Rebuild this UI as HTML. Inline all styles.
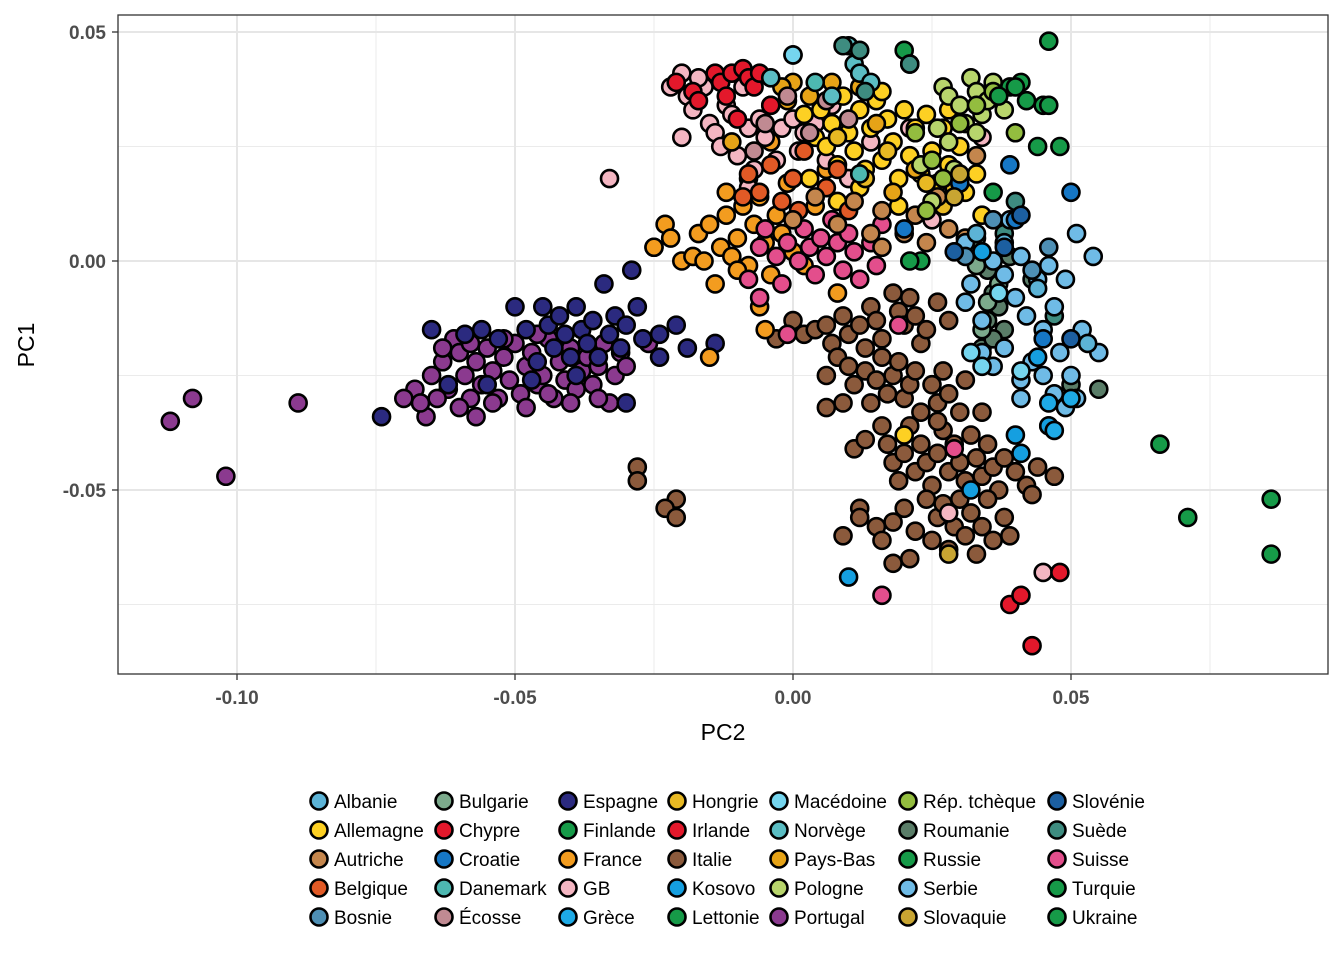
<!DOCTYPE html>
<html><head><meta charset="utf-8"><style>
body{margin:0;background:#fff;}
svg{display:block;font-family:"Liberation Sans",Arial,sans-serif;}
</style></head><body>
<svg id="chart" width="1344" height="960">
<rect x="0" y="0" width="1344" height="960" fill="#fff"/>
<g id="grid"></g><g id="pts"></g>
<rect x="118" y="15" width="1210" height="659" fill="none" stroke="#333" stroke-width="1.3"/>
<g id="axes"></g>
<text x="723" y="740" font-size="23" text-anchor="middle" fill="#000">PC2</text>
<text x="0" y="0" font-size="23" text-anchor="middle" fill="#000" transform="translate(34,345) rotate(-90)">PC1</text>
<g id="legend"></g>
</svg>
<script>
const xTicks=[-0.10,-0.05,0.00,0.05];
const xTickLabels=["-0.10","-0.05","0.00","0.05"];
const yTicks=[0.05,0.00,-0.05];
const yTickLabels=["0.05","0.00","-0.05"];
const countries=["Albanie","Allemagne","Autriche","Belgique","Bosnie","Bulgarie","Chypre","Croatie","Danemark","Écosse","Espagne","Finlande","France","GB","Grèce","Hongrie","Irlande","Italie","Kosovo","Lettonie","Macédoine","Norvège","Pays-Bas","Pologne","Portugal","Rép. tchèque","Roumanie","Russie","Serbie","Slovaquie","Slovénie","Suède","Suisse","Turquie","Ukraine"];
const colors=["#5CB3D6","#FDD023","#C4864D","#E15A26","#4E8FB4","#7CAA8C","#E3182B","#1677C5","#4DB8B1","#C08A92","#2B2A7F","#169A48","#F39C1F","#F4B6C2","#1EAAE6","#E8B923","#E3182B","#8B5A3C","#159FE0","#169A48","#75D5EE","#5BBDC3","#E6A317","#B8D56C","#8B3A8F","#93BD3F","#5A7D68","#169A48","#6FBBE6","#C8A532","#1C5FA0","#3E8C80","#E34E8C","#169A48","#169A48"];

const Portugal=[[-0.112,-0.035],[-0.108,-0.030],[-0.102,-0.047],[-0.089,-0.031],[-0.066,-0.034],[-0.057,-0.034],[-0.068,-0.028],[-0.067,-0.031],[-0.065,-0.025],[-0.063,-0.022],[-0.062,-0.028],[-0.061,-0.017],[-0.060,-0.020],[-0.059,-0.025],[-0.058,-0.030],[-0.057,-0.022],[-0.056,-0.027],[-0.055,-0.019],[-0.054,-0.024],[-0.053,-0.030],[-0.052,-0.021],[-0.051,-0.026],[-0.050,-0.018],[-0.049,-0.029],[-0.048,-0.023],[-0.047,-0.020],[-0.046,-0.027],[-0.045,-0.025],[-0.044,-0.017],[-0.043,-0.030],[-0.042,-0.022],[-0.041,-0.026],[-0.040,-0.019],[-0.039,-0.028],[-0.038,-0.024],[-0.037,-0.021],[-0.036,-0.027],[-0.035,-0.023],[-0.034,-0.018],[-0.033,-0.031],[-0.032,-0.025],[-0.031,-0.020],[-0.030,-0.023],[-0.064,-0.030],[-0.060,-0.032],[-0.054,-0.031],[-0.048,-0.032],[-0.044,-0.029],[-0.058,-0.018],[-0.052,-0.017],[-0.046,-0.016],[-0.063,-0.019],[-0.070,-0.030],[-0.040,-0.031],[-0.035,-0.030],[-0.026,-0.018]];
const Espagne=[[-0.074,-0.034],[-0.065,-0.015],[-0.062,-0.027],[-0.059,-0.016],[-0.056,-0.015],[-0.053,-0.017],[-0.050,-0.010],[-0.048,-0.015],[-0.046,-0.022],[-0.044,-0.014],[-0.043,-0.019],[-0.042,-0.012],[-0.041,-0.016],[-0.040,-0.021],[-0.039,-0.010],[-0.038,-0.015],[-0.037,-0.018],[-0.036,-0.013],[-0.035,-0.021],[-0.034,-0.005],[-0.033,-0.016],[-0.032,-0.012],[-0.031,-0.019],[-0.030,-0.014],[-0.029,-0.002],[-0.028,-0.010],[-0.027,-0.017],[-0.025,0.003],[-0.024,-0.016],[-0.024,-0.021],[-0.021,-0.014],[-0.019,-0.019],[-0.014,-0.018],[-0.030,-0.031],[-0.055,-0.027],[-0.047,-0.026],[-0.039,-0.025],[-0.045,-0.010]];
const Italie=[[-0.028,-0.045],[-0.028,-0.048],[-0.021,-0.052],[-0.023,-0.054],[-0.021,-0.056],[-0.003,-0.017],[0.000,-0.013],[0.002,-0.016],[0.004,-0.015],[0.006,-0.014],[0.007,-0.018],[0.009,-0.012],[0.010,-0.016],[0.012,-0.014],[0.013,-0.019],[0.014,-0.010],[0.015,-0.013],[0.016,-0.017],[0.018,-0.007],[0.019,-0.011],[0.020,-0.014],[0.021,-0.008],[0.022,-0.012],[0.023,-0.018],[0.024,-0.015],[0.026,-0.009],[0.028,-0.013],[0.006,-0.025],[0.008,-0.021],[0.010,-0.023],[0.011,-0.027],[0.013,-0.024],[0.015,-0.026],[0.016,-0.021],[0.017,-0.029],[0.018,-0.025],[0.019,-0.022],[0.020,-0.030],[0.021,-0.027],[0.022,-0.024],[0.023,-0.033],[0.025,-0.027],[0.026,-0.031],[0.027,-0.024],[0.028,-0.029],[0.030,-0.033],[0.031,-0.026],[0.006,-0.032],[0.009,-0.031],[0.011,-0.041],[0.013,-0.039],[0.016,-0.036],[0.017,-0.040],[0.018,-0.044],[0.019,-0.048],[0.020,-0.042],[0.021,-0.036],[0.022,-0.046],[0.023,-0.040],[0.024,-0.044],[0.025,-0.049],[0.026,-0.042],[0.027,-0.037],[0.028,-0.046],[0.029,-0.040],[0.030,-0.044],[0.031,-0.048],[0.032,-0.038],[0.033,-0.043],[0.034,-0.047],[0.035,-0.040],[0.036,-0.045],[0.037,-0.050],[0.038,-0.043],[0.040,-0.046],[0.042,-0.049],[0.044,-0.045],[0.047,-0.047],[0.043,-0.051],[0.012,-0.054],[0.012,-0.056],[0.009,-0.060],[0.015,-0.058],[0.016,-0.061],[0.018,-0.057],[0.018,-0.066],[0.020,-0.054],[0.021,-0.065],[0.022,-0.059],[0.024,-0.052],[0.025,-0.061],[0.026,-0.056],[0.027,-0.053],[0.028,-0.063],[0.029,-0.058],[0.030,-0.052],[0.031,-0.060],[0.032,-0.055],[0.033,-0.064],[0.034,-0.058],[0.035,-0.052],[0.036,-0.061],[0.038,-0.056],[0.039,-0.060],[0.034,-0.033],[0.026,-0.035],[0.014,-0.031]];
const France=[[-0.025,0.003],[-0.023,0.008],[-0.022,0.005],[-0.020,0.000],[-0.018,0.001],[-0.017,0.006],[-0.016,0.000],[-0.015,0.008],[-0.014,-0.005],[-0.013,0.003],[-0.012,0.010],[-0.011,0.001],[-0.010,0.005],[-0.009,0.012],[-0.008,-0.001],[-0.007,0.008],[-0.006,0.014],[-0.005,0.004],[-0.004,-0.003],[-0.003,0.010],[-0.002,0.006],[-0.001,0.017],[0.000,0.002],[0.002,-0.001],[0.004,0.012],[-0.005,-0.015],[-0.015,-0.021],[-0.006,-0.010],[0.008,-0.007],[-0.008,0.018],[-0.012,0.015],[-0.004,0.026],[0.006,0.020],[-0.010,-0.002]];
const Suisse=[[-0.008,-0.004],[-0.006,0.003],[-0.005,0.007],[-0.003,0.001],[-0.002,-0.005],[-0.001,0.004],[0.001,0.000],[0.002,0.007],[0.003,0.003],[0.004,-0.003],[0.005,0.005],[0.006,0.001],[0.007,0.009],[0.008,0.004],[0.009,-0.002],[0.010,0.006],[0.011,0.002],[0.012,-0.004],[0.014,0.004],[0.015,-0.001],[0.016,0.008],[0.019,-0.014],[-0.006,-0.008],[0.016,-0.073],[0.029,-0.041],[-0.001,-0.016]];
const GB=[[-0.033,0.018],[-0.022,0.038],[-0.020,0.041],[-0.020,0.027],[-0.019,0.036],[-0.018,0.033],[-0.016,0.038],[-0.015,0.030],[-0.014,0.028],[-0.013,0.025],[-0.012,0.034],[-0.011,0.032],[-0.010,0.023],[-0.009,0.038],[-0.008,0.029],[-0.007,0.020],[-0.006,0.031],[-0.005,0.027],[-0.004,0.034],[-0.003,0.022],[-0.002,0.029],[0.000,0.031],[0.001,0.024],[0.002,0.028],[0.004,0.030],[0.006,0.022],[0.007,0.034],[0.010,0.018],[0.014,0.026],[0.021,0.029],[0.025,0.009],[0.034,0.027],[-0.017,0.040],[-0.008,0.016],[0.045,-0.068],[0.028,-0.055]];
const Irlande=[[-0.021,0.039],[-0.018,0.037],[-0.017,0.035],[-0.014,0.041],[-0.013,0.039],[-0.012,0.036],[-0.011,0.041],[-0.009,0.042],[-0.008,0.040],[-0.007,0.038],[-0.006,0.041],[-0.004,0.034],[-0.010,0.031],[0.039,-0.075],[0.043,-0.084]];
const Chypre=[[0.041,-0.073],[0.048,-0.068]];
const Allemagne=[[0.002,0.032],[0.004,0.027],[0.005,0.033],[0.006,0.025],[0.007,0.030],[0.008,0.021],[0.009,0.036],[0.010,0.028],[0.011,0.024],[0.012,0.033],[0.013,0.020],[0.014,0.029],[0.015,0.035],[0.016,0.022],[0.017,0.031],[0.018,0.026],[0.019,0.018],[0.020,0.033],[0.021,0.023],[0.022,0.029],[0.023,0.019],[0.024,0.032],[0.025,0.024],[0.026,0.017],[0.027,0.029],[0.028,0.021],[0.030,0.025],[0.031,0.015],[0.033,0.019],[0.034,0.010],[0.012,0.016],[0.008,0.013],[0.016,0.037],[0.019,0.012],[0.003,0.018],[0.020,-0.038],[0.028,0.033]];
const PaysBas=[[0.000,0.039],[0.003,0.036],[0.007,0.039],[0.012,0.038],[-0.001,0.035],[0.015,0.030],[0.022,0.020],[0.018,0.015],[-0.011,0.026],[-0.002,0.038]];
const Hongrie=[[0.013,0.018],[0.027,0.012],[0.017,0.024],[0.024,0.017],[0.008,0.027],[0.029,0.016]];
const Belgique=[[-0.008,0.019],[-0.006,0.015],[-0.004,0.021],[-0.002,0.013],[0.000,0.018],[0.002,0.024],[0.006,0.016],[0.010,0.011],[-0.009,0.014],[0.001,0.011],[0.008,0.020]];
const Autriche=[[0.004,0.014],[0.008,0.008],[0.011,0.013],[0.014,0.006],[0.016,0.011],[0.020,0.006],[0.022,0.010],[0.024,0.004],[0.026,0.014],[0.028,0.007],[0.031,0.005],[0.033,0.023],[0.016,0.003],[0.000,0.009]];
const Ecosse=[[-0.005,0.030],[-0.001,0.036],[0.003,0.028],[0.006,0.035],[-0.007,0.024],[0.010,0.031]];
const Pologne=[[0.027,0.038],[0.028,0.036],[0.030,0.034],[0.032,0.040],[0.033,0.037],[0.034,0.032],[0.035,0.035],[0.036,0.039],[0.038,0.033],[0.031,0.030],[0.026,0.029],[0.028,0.026],[0.033,0.028],[0.023,0.021],[0.029,0.020],[0.025,0.013]];
const RepTcheque=[[0.022,0.028],[0.025,0.022],[0.027,0.018],[0.030,0.030],[0.036,0.037],[0.040,0.028],[0.024,0.011],[0.033,0.034]];
const Finlande=[[0.066,-0.040],[0.071,-0.056],[0.086,-0.052],[0.086,-0.064]];
const Russie=[[0.046,0.048],[0.048,0.025],[0.041,0.039],[0.039,0.038],[0.037,0.036],[0.020,0.046],[0.021,0.043],[0.042,0.035],[0.036,0.015],[0.023,0.000]];
const Norvege=[[0.000,0.045],[0.010,0.047],[0.011,0.043],[0.012,0.041],[0.014,0.039],[-0.004,0.040],[0.007,0.036]];
const Suede=[[0.009,0.047],[0.012,0.046],[0.021,0.043],[0.013,0.037],[0.040,0.013],[0.038,0.006],[0.047,-0.012]];
const Roumanie=[[0.035,-0.002],[0.036,-0.007],[0.037,-0.010],[0.035,-0.013],[0.038,-0.015],[0.033,0.005],[0.039,0.001],[0.043,-0.004],[0.034,-0.019],[0.036,-0.017],[0.050,-0.027],[0.055,-0.028]];
const Bulgarie=[[0.035,-0.009],[0.034,-0.015],[0.037,-0.005],[0.033,-0.001]];
const Serbie=[[0.031,-0.009],[0.034,-0.013],[0.036,0.000],[0.038,-0.003],[0.040,-0.008],[0.041,0.001],[0.042,-0.012],[0.044,-0.004],[0.045,-0.015],[0.046,-0.001],[0.047,-0.010],[0.048,-0.020],[0.049,-0.004],[0.050,-0.025],[0.051,0.006],[0.052,-0.015],[0.054,0.001],[0.055,-0.020],[0.045,-0.025],[0.047,-0.029],[0.049,-0.032],[0.051,-0.030],[0.043,-0.022],[0.041,-0.026],[0.046,-0.036],[0.038,-0.019],[0.041,-0.030],[0.032,-0.005],[0.039,0.009],[0.031,0.004],[0.036,-0.023],[0.034,-0.020]];
const Macedoine=[[0.000,0.045],[0.034,-0.023],[0.032,-0.020],[0.037,-0.007],[0.041,-0.024]];
const Albanie=[[0.033,0.006],[0.038,0.004],[0.044,-0.006],[0.053,-0.018]];
const Bosnie=[[0.031,0.001],[0.036,0.009],[0.046,0.003],[0.043,-0.002]];
const Croatie=[[0.050,0.015],[0.039,0.021],[0.040,0.009],[0.030,0.017],[0.045,-0.017],[0.020,0.007]];
const Slovenie=[[0.041,0.010],[0.038,0.003],[0.050,-0.017],[0.029,0.002]];
const Kosovo=[[0.010,-0.069],[0.040,-0.038],[0.032,-0.050],[0.046,-0.036],[0.044,-0.021],[0.034,0.002],[0.041,-0.042]];
const Grece=[[0.047,-0.037],[0.046,-0.031],[0.050,-0.030]];
const Slovaquie=[[0.028,-0.064],[0.029,0.014],[0.030,0.019]];
const Danemark=[[0.004,0.039],[0.012,0.019]];
const Lettonie=[[0.044,0.025],[0.045,0.034]];
const Ukraine=[[0.040,0.038],[0.046,0.034]];
const Turquie=[[0.021,0.000]];

const series=[["Portugal",Portugal],["Espagne",Espagne],["Italie",Italie],["France",France],["Suisse",Suisse],["GB",GB],["Irlande",Irlande],["Chypre",Chypre],["Allemagne",Allemagne],["Pays-Bas",PaysBas],["Hongrie",Hongrie],["Belgique",Belgique],["Autriche",Autriche],["Écosse",Ecosse],["Pologne",Pologne],["Rép. tchèque",RepTcheque],["Finlande",Finlande],["Russie",Russie],["Norvège",Norvege],["Suède",Suede],["Roumanie",Roumanie],["Bulgarie",Bulgarie],["Serbie",Serbie],["Macédoine",Macedoine],["Albanie",Albanie],["Bosnie",Bosnie],["Croatie",Croatie],["Slovénie",Slovenie],["Kosovo",Kosovo],["Grèce",Grece],["Slovaquie",Slovaquie],["Danemark",Danemark],["Lettonie",Lettonie],["Ukraine",Ukraine],["Turquie",Turquie]];

const NS="http://www.w3.org/2000/svg";
const xS=v=>793+v*5560;
const yS=v=>261-v*4580;
function mk(tag,attrs,parent){const e=document.createElementNS(NS,tag);for(const k in attrs)e.setAttribute(k,attrs[k]);parent.appendChild(e);return e;}
const grid=document.getElementById('grid'),axes=document.getElementById('axes'),pts=document.getElementById('pts'),leg=document.getElementById('legend');
const xMinor=[-0.075,-0.025,0.025,0.075],yMinor=[0.025,-0.025,-0.075];
xMinor.forEach(v=>{const l=mk('line',{x1:xS(v),x2:xS(v),y1:15,y2:674,stroke:'#ebebeb','stroke-width':1},grid);

});
yMinor.forEach(v=>{const l=mk('line',{x1:118,x2:1328,y1:yS(v),y2:yS(v),stroke:'#ebebeb','stroke-width':1},grid);

});
xTicks.forEach((v,i)=>{const l=mk('line',{x1:xS(v),x2:xS(v),y1:15,y2:674,stroke:'#e6e6e6','stroke-width':2},grid);


const t=mk('line',{x1:xS(v),x2:xS(v),y1:674,y2:680,stroke:'#333','stroke-width':1.3},axes);


const tx=mk('text',{x:xS(v),y:704,'font-size':19,'font-weight':'bold',fill:'#4d4d4d','text-anchor':'middle'},axes);tx.textContent=xTickLabels[i];

});
yTicks.forEach((v,i)=>{const l=mk('line',{x1:118,x2:1328,y1:yS(v),y2:yS(v),stroke:'#e6e6e6','stroke-width':2},grid);


const t=mk('line',{x1:112,x2:118,y1:yS(v),y2:yS(v),stroke:'#333','stroke-width':1.3},axes);


const tx=mk('text',{x:106,y:yS(v)+7,'font-size':19,'font-weight':'bold',fill:'#4d4d4d','text-anchor':'end'},axes);tx.textContent=yTickLabels[i];

});
series.forEach(([name,arr])=>{const col=colors[countries.indexOf(name)];
arr.forEach(p=>{const c=mk('circle',{cx:xS(p[0]),cy:yS(p[1]),r:8.5,fill:col,stroke:'#000','stroke-width':2.6},pts);

});});
const colX=[319,444,568,677,779,908,1057];
countries.forEach((n,i)=>{const cx=colX[Math.floor(i/5)],cy=801+(i%5)*29;
const g=mk('g',{},leg);


mk('circle',{cx:cx,cy:cy,r:8.5,fill:colors[i],stroke:'#000','stroke-width':2.6},g);
const t=mk('text',{x:cx+15,y:cy+7,'font-size':19,fill:'#000'},g);t.textContent=n;});
</script>
</body></html>
